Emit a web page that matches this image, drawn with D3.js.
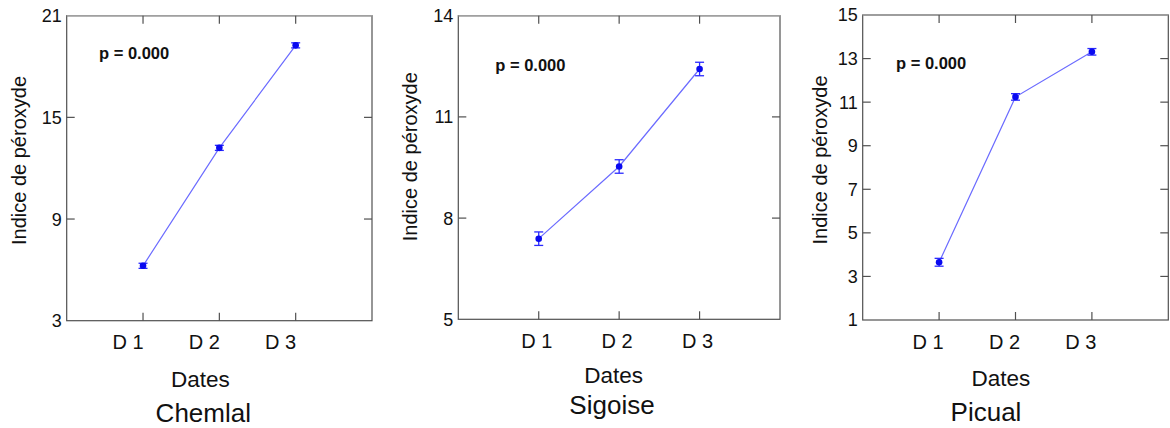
<!DOCTYPE html>
<html>
<head>
<meta charset="utf-8">
<script src="https://cdn.jsdelivr.net/npm/d3@7"></script>
<style>
  body { margin: 0; background: #fff; }
  svg { display: block; font-family: 'Liberation Sans', Arial, sans-serif; }
  .frame { fill: none; stroke: #505050; stroke-width: 1.2; }
  .frame-top { stroke: #a0a0a0; stroke-width: 1.5; }
  .tick { stroke: #505050; stroke-width: 1.2; }
  .meanline { fill: none; stroke: #6b6bff; stroke-width: 1.2; }
  .errbar { stroke: #2a2aff; stroke-width: 1.3; }
  .point { fill: #0a0af0; }
</style>
</head>
<body>
<svg id="chart" width="1170" height="428"></svg>
<script>
var dates = ['D 1', 'D 2', 'D 3']
var cultivars = ['Chemlal', 'Sigoise', 'Picual']

var chemlalMeans = [6.24, 13.2, 19.25]
,   chemlalErr = [0.15, 0.15, 0.15]
,   chemlalTicks = [3, 9, 15, 21]

var sigoiseMeans = [7.39, 9.53, 12.42]
,   sigoiseErr = [0.2, 0.2, 0.2]
,   sigoiseTicks = [5, 8, 11, 14]

var picualMeans = [3.65, 11.24, 13.31]
,   picualErr = [0.18, 0.15, 0.15]
,   picualTicks = [1, 3, 5, 7, 9, 11, 13, 15]

var pValues = ['p = 0.000', 'p = 0.000', 'p = 0.000']

var yTitle = 'Indice de péroxyde'
,   xTitle = 'Dates'

// frame boxes and text offsets for each of the three panels
var panels = [
  {means: chemlalMeans, err: chemlalErr, ticks: chemlalTicks,
   left: 66.7, right: 372, top: 15.7, bottom: 320.7,
   labelDx: -15, pX: 99, pY: 59, yTitleX: 26.3, yTitleY: 160.5,
   xTitleX: 200.3, xTitleY: 387.3, nameX: 203.3, nameY: 422.3}
, {means: sigoiseMeans, err: sigoiseErr, ticks: sigoiseTicks,
   left: 458.3, right: 780, top: 15.7, bottom: 319.3,
   labelDx: -2, pX: 495.3, pY: 70.7, yTitleX: 416.7, yTitleY: 156.7,
   xTitleX: 613.7, xTitleY: 382.7, nameX: 612, nameY: 413.5}
, {means: picualMeans, err: picualErr, ticks: picualTicks,
   left: 862.7, right: 1168.3, top: 15, bottom: 320,
   labelDx: -11, pX: 896, pY: 69, yTitleX: 826.7, yTitleY: 160,
   xTitleX: 1000.8, xTitleY: 385.7, nameX: 986, nameY: 420.7}
]

var TICK = 8
,   CAP = 4.5

var svg = d3.select('#chart')

panels.forEach((p, i) => {
  var g = svg.append('g')
  ,   x = d3.scaleLinear().domain([0, dates.length + 1]).range([p.left, p.right])
  ,   y = d3.scaleLinear().domain(d3.extent(p.ticks)).range([p.bottom, p.top])
  ,   rows = dates.map((d, k) => ({date: d, k: k + 1, mean: p.means[k], err: p.err[k]}))

  // box
  g.append('rect')
    .attr('class', 'frame')
    .attr('x', p.left)
    .attr('y', p.top)
    .attr('width', p.right - p.left)
    .attr('height', p.bottom - p.top)
  g.append('line')
    .attr('class', 'frame-top')
    .attr('x1', p.left).attr('x2', p.right)
    .attr('y1', p.top).attr('y2', p.top)

  // y ticks, inward on both sides
  var inner = p.ticks.slice(1, -1)
  g.selectAll('.ytl').data(inner).enter()
    .append('line').attr('class', 'tick')
    .attr('x1', p.left).attr('x2', p.left + TICK)
    .attr('y1', (d) => y(d)).attr('y2', (d) => y(d))
  g.selectAll('.ytr').data(inner).enter()
    .append('line').attr('class', 'tick')
    .attr('x1', p.right - TICK).attr('x2', p.right)
    .attr('y1', (d) => y(d)).attr('y2', (d) => y(d))

  g.selectAll('.ylab').data(p.ticks).enter()
    .append('text')
    .attr('x', p.left - 5)
    .attr('y', (d) => y(d))
    .attr('dy', '0.36em')
    .attr('text-anchor', 'end')
    .attr('font-size', 18)
    .attr('fill', '#111')
    .text((d) => d)

  // x ticks, inward top and bottom
  g.selectAll('.xtb').data(rows).enter()
    .append('line').attr('class', 'tick')
    .attr('x1', (d) => x(d.k)).attr('x2', (d) => x(d.k))
    .attr('y1', p.bottom - TICK).attr('y2', p.bottom)
  g.selectAll('.xtt').data(rows).enter()
    .append('line').attr('class', 'tick')
    .attr('x1', (d) => x(d.k)).attr('x2', (d) => x(d.k))
    .attr('y1', p.top).attr('y2', p.top + TICK)

  g.selectAll('.xlab').data(rows).enter()
    .append('text')
    .attr('x', (d) => x(d.k) + p.labelDx)
    .attr('y', p.bottom + 28.5)
    .attr('text-anchor', 'middle')
    .attr('font-size', 20)
    .attr('fill', '#111')
    .text((d) => d.date)

  // mean line, error bars, points
  g.append('path')
    .attr('class', 'meanline')
    .attr('d', d3.line().x((d) => x(d.k)).y((d) => y(d.mean))(rows))

  var bars = g.selectAll('.err').data(rows).enter().append('g')
  bars.append('line').attr('class', 'errbar')
    .attr('x1', (d) => x(d.k)).attr('x2', (d) => x(d.k))
    .attr('y1', (d) => y(d.mean - d.err)).attr('y2', (d) => y(d.mean + d.err))
  bars.append('line').attr('class', 'errbar')
    .attr('x1', (d) => x(d.k) - CAP).attr('x2', (d) => x(d.k) + CAP)
    .attr('y1', (d) => y(d.mean - d.err)).attr('y2', (d) => y(d.mean - d.err))
  bars.append('line').attr('class', 'errbar')
    .attr('x1', (d) => x(d.k) - CAP).attr('x2', (d) => x(d.k) + CAP)
    .attr('y1', (d) => y(d.mean + d.err)).attr('y2', (d) => y(d.mean + d.err))

  g.selectAll('.point').data(rows).enter()
    .append('circle')
    .attr('class', 'point')
    .attr('r', 3.3)
    .attr('cx', (d) => x(d.k))
    .attr('cy', (d) => y(d.mean))

  // texts
  g.append('text')
    .attr('x', p.pX).attr('y', p.pY)
    .attr('font-size', 16.5)
    .attr('font-weight', 'bold')
    .attr('fill', '#111')
    .text(pValues[i])

  g.append('text')
    .attr('transform', 'translate(' + p.yTitleX + ',' + p.yTitleY + ') rotate(-90)')
    .attr('text-anchor', 'middle')
    .attr('font-size', 20)
    .attr('fill', '#111')
    .text(yTitle)

  g.append('text')
    .attr('x', p.xTitleX).attr('y', p.xTitleY)
    .attr('text-anchor', 'middle')
    .attr('font-size', 22.5)
    .attr('fill', '#111')
    .text(xTitle)

  g.append('text')
    .attr('x', p.nameX).attr('y', p.nameY)
    .attr('text-anchor', 'middle')
    .attr('font-size', 26)
    .attr('fill', '#111')
    .text(cultivars[i])
})
</script>
</body>
</html>
